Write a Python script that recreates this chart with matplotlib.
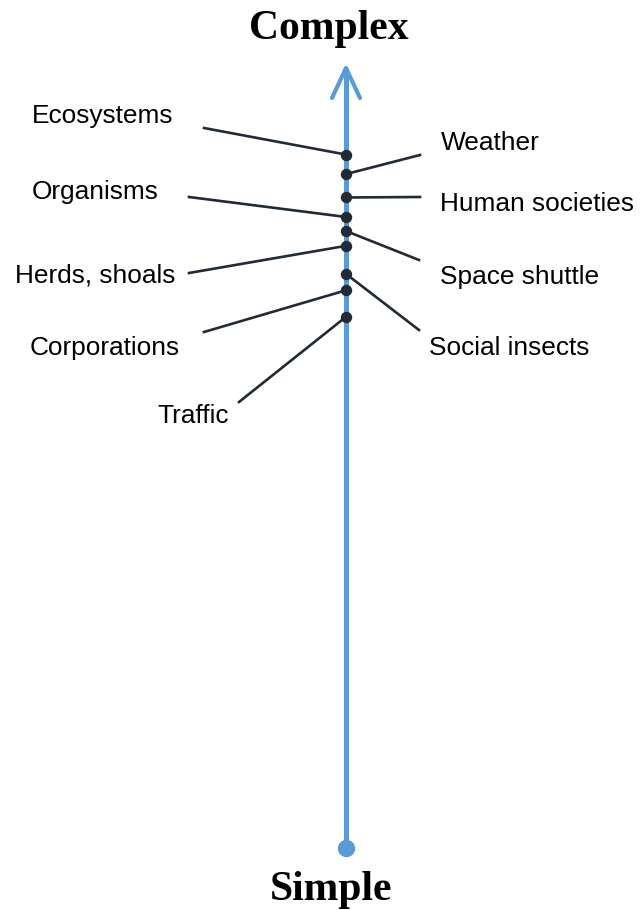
import matplotlib
matplotlib.use("Agg")
import matplotlib.pyplot as plt

# ---- data: position of each system on the complexity scale (0 = simple, 100 = complex)
labels = ["Ecosystems", "Weather", "Human societies", "Organisms", "Space shuttle",
          "Herds, shoals", "Social insects", "Corporations", "Traffic"]
complexity = [88.9, 86.4, 83.4, 80.9, 79.1, 77.2, 73.6, 71.5, 68.1]
scale_min, scale_max = 0, 100
top_label, bottom_label = "Complex", "Simple"

# ---- layout (pixel positions of label texts and leader-line ends)
W, H = 641, 910
AX_X = 346
Y0_PX, PX_PER_UNIT = 848, 7.8


def py(p):
    """pixel y (from top) -> data y"""
    return (Y0_PX - p) / PX_PER_UNIT


label_layout = {
    # name: (text_x, text_baseline_px, line_end_x, line_end_y_px)
    "Ecosystems": (32, 122.5, 204, 128),
    "Weather": (441, 150.5, 420, 155),
    "Human societies": (440, 211, 420, 197),
    "Organisms": (32, 199, 189, 197),
    "Space shuttle": (440, 284, 419, 260),
    "Herds, shoals": (15, 283, 189, 273),
    "Social insects": (429, 355, 419, 330),
    "Corporations": (30, 355, 204, 332),
    "Traffic": (157, 423, 239, 402),
}

fig = plt.figure(figsize=(W / 100, H / 100), dpi=100)
ax = fig.add_axes([0, 0, 1, 1])
ax.set_xlim(0, W)
ax.set_ylim(py(H), py(0))
ax.axis("off")

blue = "#5B9BD5"
dark = "#222A35"

# main arrow shaft
ax.plot([AX_X, AX_X], [scale_min, scale_max], color=blue, lw=3.6,
        solid_capstyle="butt", zorder=1)
# arrow head (open)
tip = scale_max
wing_dy = 30 / PX_PER_UNIT
ax.plot([AX_X - 14, AX_X, AX_X + 14], [tip - wing_dy, tip, tip - wing_dy],
        color=blue, lw=3.0, solid_capstyle="round", solid_joinstyle="round", zorder=1)
# bottom dot
ax.plot([AX_X], [scale_min], "o", color=blue, markersize=11.5, zorder=2)

font = "Liberation Sans"
for name, val in zip(labels, complexity):
    tx, tb, lx, ly = label_layout[name]
    ax.plot([AX_X, lx], [val, py(ly)], color=dark, lw=1.9, zorder=3)
    ax.plot([AX_X], [val], "o", color=dark, markersize=7.2, zorder=4)
    ax.text(tx, py(tb), name, ha="left", va="baseline", fontsize=18.9,
            family=font, color="black")

ax.text(329, py(39), top_label, ha="center", va="baseline", fontsize=30,
        family="Liberation Serif", fontweight="bold", color="black")
ax.text(331, py(900), bottom_label, ha="center", va="baseline", fontsize=30,
        family="Liberation Serif", fontweight="bold", color="black")

fig.savefig("out.png", dpi=100)
